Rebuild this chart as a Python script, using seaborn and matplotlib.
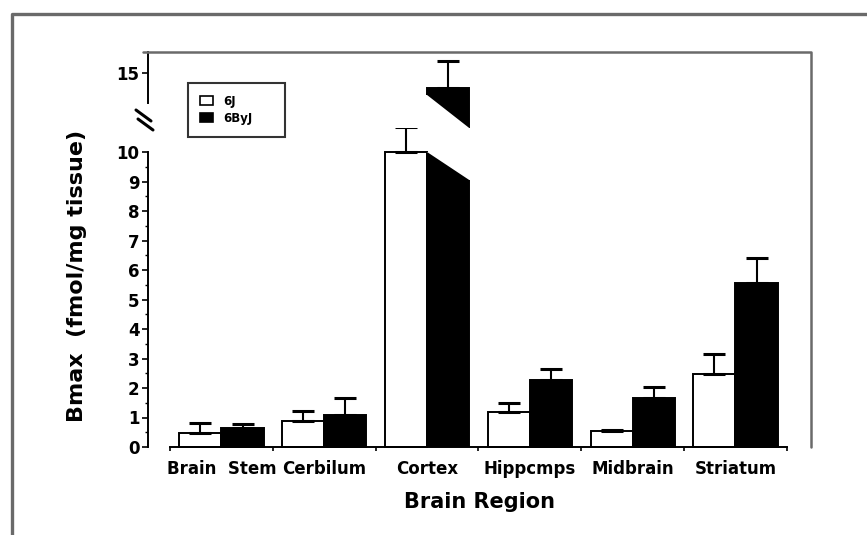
import numpy as np
import pandas as pd
import matplotlib
matplotlib.use("Agg")
import matplotlib.pyplot as plt
from matplotlib.lines import Line2D
from matplotlib.patches import Patch, Polygon
from matplotlib.container import BarContainer
import seaborn as sns

# Receptor density (Bmax, fmol/mg tissue) by brain region, mean and SEM
regions = ["Brain  Stem", "Cerbilum", "Cortex", "Hippcmps", "Midbrain", "Striatum"]
strains = ["6J", "6ByJ"]
bmax_6j = [0.46, 0.89, 10.0, 1.17, 0.53, 2.49]
sem_6j = [0.34, 0.34, 0.85, 0.31, 0.06, 0.67]
bmax_6byj = [0.63, 1.09, 14.5, 2.28, 1.67, 5.56]
sem_6byj = [0.15, 0.56, 0.90, 0.38, 0.36, 0.86]
y_ticks_low = list(range(0, 11))
y_ticks_high = [15]

sns.set_style("ticks")
plt.rcParams["font.family"] = ["DejaVu Sans"]
plt.rcParams["font.weight"] = "bold"
for key in ("text.color", "axes.labelcolor", "xtick.color", "ytick.color"):
    plt.rcParams[key] = "black"

df = pd.DataFrame({
    "region": regions * 2,
    "strain": ["6J"] * len(regions) + ["6ByJ"] * len(regions),
    "bmax": bmax_6j + bmax_6byj,
})
sems = {"6J": sem_6j, "6ByJ": sem_6byj}

W, H = 867, 535
fig = plt.figure(figsize=(W / 100, H / 100), dpi=100)


def px_box(x0, y0, x1, y1):
    return [x0 / W, 1 - y1 / H, (x1 - x0) / W, (y1 - y0) / H]


def fx(x):
    return x / W


def fy(y):
    return 1 - y / H


# broken y axis: lower panel 0-10, upper panel around 13-16
ax_lo = fig.add_axes(px_box(148, 152, 811, 447))
ax_hi = fig.add_axes(px_box(148, 52, 811, 128))

LO_TOP = 10.0
PX_PER_UNIT = 295 / LO_TOP
HI_LIM = (15 - (128 - 73) / PX_PER_UNIT, 15 + (73 - 52) / PX_PER_UNIT)

bar_sets = {}
for ax in (ax_lo, ax_hi):
    sns.barplot(data=df, x="region", y="bmax", hue="strain", order=regions,
                hue_order=strains, palette={"6J": "white", "6ByJ": "black"},
                edgecolor="black", linewidth=1.4, width=0.82, errorbar=None,
                legend=False, ax=ax)
    ax.set_xlim(-0.715, 5.735)
    ax.set_xlabel("")
    ax.set_ylabel("")
    bar_sets[ax] = [c for c in ax.containers if isinstance(c, BarContainer)]

ax_lo.set_ylim(0, LO_TOP)
ax_hi.set_ylim(*HI_LIM)

# one-sided SEM bars, drawn in whichever panel shows the bar top
for ax in (ax_lo, ax_hi):
    for container, strain in zip(bar_sets[ax], strains):
        for bar, err in zip(container.patches, sems[strain]):
            h = bar.get_height()
            in_low = h <= LO_TOP
            if (ax is ax_lo) != in_low:
                continue
            if ax is ax_lo:
                bar.set_clip_on(False)
            eb = ax.errorbar(bar.get_x() + bar.get_width() / 2, h,
                             yerr=[[0], [err]], fmt="none", ecolor="black",
                             elinewidth=1.5, capsize=8, capthick=2.2, zorder=1)
            for art in eb.get_children():
                art.set_clip_on(False)

# diagonal cut where the tall bar crosses the break
for container in bar_sets[ax_lo]:
    for bar in container.patches:
        if bar.get_height() > LO_TOP:
            x0 = bar.get_x()
            x1 = x0 + bar.get_width()
            d = 28 / PX_PER_UNIT
            ax_lo.add_patch(Polygon(
                [(x0, LO_TOP), (x1, LO_TOP - d), (x1 + 0.03, LO_TOP - d),
                 (x1 + 0.03, LO_TOP + 0.2), (x0, LO_TOP + 0.2)],
                closed=True, facecolor="white", edgecolor="none", zorder=5))
for container in bar_sets[ax_hi]:
    for bar in container.patches:
        if bar.get_height() > LO_TOP:
            x0 = bar.get_x()
            x1 = x0 + bar.get_width()
            b = HI_LIM[0]
            d = 33 / PX_PER_UNIT
            ax_hi.add_patch(Polygon(
                [(x0 - 0.03, b + d), (x0, b + d), (x1, b), (x1, b - 0.2),
                 (x0 - 0.03, b - 0.2)],
                closed=True, facecolor="white", edgecolor="none", zorder=5))

# spines and ticks, lower panel
for s in ("top", "right"):
    ax_lo.spines[s].set_visible(False)
ax_lo.spines["left"].set_bounds(0, LO_TOP)
ax_lo.spines["bottom"].set_bounds(-0.5, 5.5)
for s in ("left", "bottom"):
    ax_lo.spines[s].set_linewidth(1.4)
    ax_lo.spines[s].set_color("black")
ax_lo.set_yticks(y_ticks_low)
ax_lo.set_yticklabels([str(t) for t in y_ticks_low])
ax_lo.set_yticks(np.arange(0.5, 10, 1.0), minor=True)
ax_lo.tick_params(axis="y", which="major", length=4, width=1.2,
                  direction="out", labelsize=12, pad=2, color="black")
ax_lo.tick_params(axis="y", which="minor", length=2.5, width=1.0,
                  direction="out", color="black")
ax_lo.set_xticks(range(len(regions)))
ax_lo.set_xticklabels(regions)
ax_lo.set_xticks(np.arange(-0.5, len(regions)), minor=True)
ax_lo.tick_params(axis="x", which="major", length=0, pad=9, labelsize=12)
ax_lo.tick_params(axis="x", which="minor", length=3, width=1.2,
                  direction="out", color="black")

# spines and ticks, upper panel
for s in ("top", "right", "bottom"):
    ax_hi.spines[s].set_visible(False)
ax_hi.spines["left"].set_bounds(15 - 30 / PX_PER_UNIT, HI_LIM[1])
ax_hi.spines["left"].set_linewidth(1.4)
ax_hi.spines["left"].set_color("black")
ax_hi.set_xticks([])
ax_hi.set_yticks(y_ticks_high)
ax_hi.set_yticklabels([str(t) for t in y_ticks_high])
ax_hi.tick_params(axis="y", length=4, width=1.2, direction="out",
                  labelsize=12, pad=2, color="black")

# frame of the plot area (top and right) and the outer page frame
frame_c = "#6a6a6a"
fig.add_artist(Line2D([fx(143), fx(811), fx(811)], [fy(52), fy(52), fy(447)],
                      color=frame_c, lw=1.8))
fig.add_artist(Line2D([fx(12), fx(12), fx(867)], [fy(535), fy(14), fy(14)],
                      color=frame_c, lw=2.4))

# axis break marks
fig.add_artist(Line2D([fx(136), fx(151)], [fy(110), fy(121)], color="black", lw=2.2))
fig.add_artist(Line2D([fx(138), fx(153)], [fy(119), fy(130)], color="black", lw=2.2))

# axis titles
fig.text(fx(479.5), fy(502), "Brain Region", ha="center", va="center",
         fontsize=15, fontweight="bold")
fig.text(fx(77), fy(276), "Bmax  (fmol/mg tissue)", ha="center", va="center",
         rotation=90, fontsize=16, fontweight="bold")

handles = [Patch(facecolor="white", edgecolor="black", linewidth=1.2, label="6J"),
           Patch(facecolor="black", edgecolor="black", linewidth=1.2, label="6ByJ")]
leg = fig.legend(handles=handles, loc="upper left",
                 bbox_to_anchor=(fx(188), fy(134), 97 / W, 51 / H), mode="expand",
                 frameon=True, fancybox=False, edgecolor="black",
                 prop={"weight": "bold", "size": 8.5},
                 handlelength=1.1, handleheight=0.8, handletextpad=0.9,
                 borderpad=1.0, labelspacing=0.35, borderaxespad=0)
leg.get_frame().set_linewidth(1.5)

fig.savefig("out.png", dpi=100, facecolor="white")
